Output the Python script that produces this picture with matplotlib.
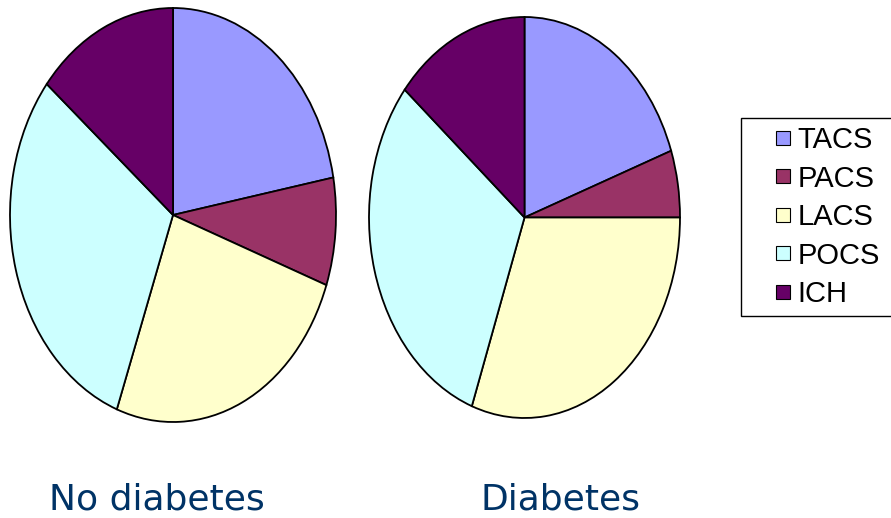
import matplotlib
matplotlib.use('Agg')
import matplotlib.pyplot as plt
from matplotlib.lines import Line2D

labels = ['TACS', 'PACS', 'LACS', 'POCS', 'ICH']
colors = ['#9999FF', '#993366', '#FFFFCC', '#CCFFFF', '#660066']
no_diabetes = [22.1, 8.4, 25.1, 30.3, 14.1]
diabetes = [19.6, 5.4, 30.5, 30.5, 14.0]
titles = ['No diabetes', 'Diabetes']

fig = plt.figure(figsize=(8.91, 5.18), dpi=100)

# pie boxes in figure fractions (pies are stretched into ellipses)
boxes = [[10/891, 96/518, 326/891, 414/518],
         [369/891, 100/518, 311/891, 401/518]]
wp = dict(edgecolor='black', linewidth=1.3, clip_on=False)

for box, vals in zip(boxes, [no_diabetes, diabetes]):
    ax = fig.add_axes(box)
    ax.pie(vals, colors=colors, startangle=90, counterclock=False, wedgeprops=wp)
    ax.set_aspect('auto')
    ax.set_xlim(-1, 1)
    ax.set_ylim(-1, 1)

# titles under the pies
fig.text(157/891, 1 - 499/518, titles[0], ha='center', va='center',
         fontsize=26, color='#003366', family='DejaVu Sans')
fig.text(560/891, 1 - 499/518, titles[1], ha='center', va='center',
         fontsize=26, color='#003366', family='DejaVu Sans')

# legend
handles = [Line2D([], [], marker='s', linestyle='none', markersize=9.4,
                  markerfacecolor=c, markeredgecolor='black', markeredgewidth=0.8)
           for c in colors]
leg = fig.legend(handles, labels, loc='upper left',
                 bbox_to_anchor=(741/891, 1 - 313/518, 0.2, 195/518),
                 mode='expand', borderaxespad=0, borderpad=0.28,
                 handlelength=2.3, handletextpad=-0.65, labelspacing=0.36,
                 fancybox=False, edgecolor='black', framealpha=1,
                 prop=dict(family='Liberation Sans', size=21))
leg.get_frame().set_linewidth(1.0)

plt.savefig('out.png', dpi=100)
